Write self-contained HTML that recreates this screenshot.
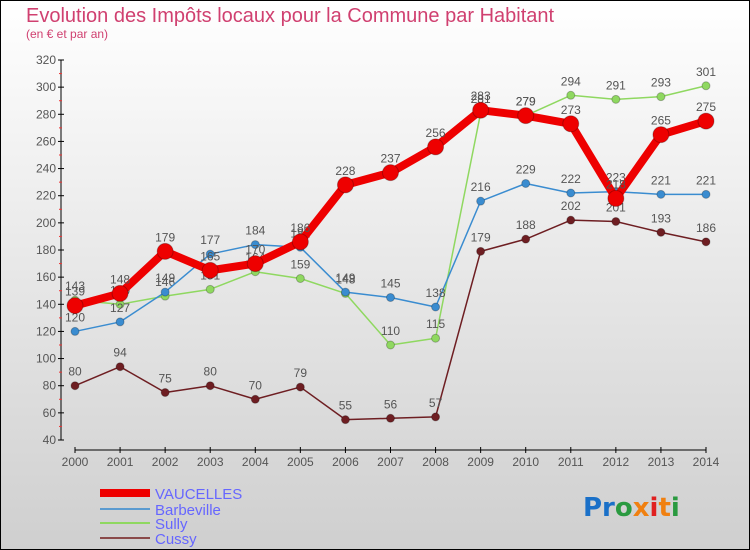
<!DOCTYPE html>
<html><head><meta charset="utf-8"><style>
body{margin:0}
#c{width:750px;height:550px;position:relative;box-sizing:border-box;border:1px solid #000;background:linear-gradient(#fff,#cfcfcf);font-family:"Liberation Sans",sans-serif;overflow:hidden}
</style></head><body>
<div id="c">
<svg id="s" width="750" height="550" style="position:absolute;left:-1px;top:-1px">
<text x="26" y="22" font-size="20" fill="#d04070">Evolution des Impôts locaux pour la Commune par Habitant</text>
<text x="26" y="38" font-size="12" fill="#d04070">(en € et par an)</text>
<g id="axes"></g><g id="series"></g>
<g>
<line x1="100" y1="493" x2="150" y2="493" stroke="#e00" stroke-width="8"/>
<text x="155" y="499" font-size="15" fill="#66f">VAUCELLES</text>
<line x1="100" y1="509" x2="150" y2="509" stroke="#5b9bd0" stroke-width="2"/>
<text x="155" y="515" font-size="15" fill="#66f">Barbeville</text>
<line x1="100" y1="523" x2="150" y2="523" stroke="#8fd860" stroke-width="2"/>
<text x="155" y="529" font-size="15" fill="#66f">Sully</text>
<line x1="100" y1="538" x2="150" y2="538" stroke="#8a4a4a" stroke-width="2"/>
<text x="155" y="544" font-size="15" fill="#66f">Cussy</text>
</g>
<text x="583" y="516" font-size="26" font-weight="bold" font-family="'DejaVu Sans',sans-serif"><tspan fill="#1a70c8">Pr</tspan><tspan fill="#2a9a40">o</tspan><tspan fill="#f08010">x</tspan><tspan fill="#e02020">i</tspan><tspan fill="#f08010">t</tspan><tspan fill="#2a9a40">i</tspan></text>
</svg></div>
<script>
const years=[2000,2001,2002,2003,2004,2005,2006,2007,2008,2009,2010,2011,2012,2013,2014];
const yTicks=[40,60,80,100,120,140,160,180,200,220,240,260,280,300,320];
const vaucelles=[139,148,179,165,170,186,228,237,256,283,279,273,218,265,275];
const barbeville=[120,127,149,177,184,182,149,145,138,216,229,222,223,221,221];
const sully=[143,140,146,151,164,159,148,110,115,281,279,294,291,293,301];
const cussy=[80,94,75,80,70,79,55,56,57,179,188,202,201,193,186];
const NS="http://www.w3.org/2000/svg";
const X=i=>75+i*(706-75)/(years.length-1);
const Y=v=>440-(v-40)*380/280;
function mk(t,a,p){const e=document.createElementNS(NS,t);for(const k in a)e.setAttribute(k,a[k]);p.appendChild(e);return e;}
const ax=document.getElementById('axes');
let e=mk('line',{x1:61,y1:60,x2:61,y2:440,stroke:'#000'},ax);

e=mk('line',{x1:75,y1:450,x2:706,y2:450,stroke:'#000'},ax);

yTicks.forEach(v=>{mk('line',{x1:58,y1:Y(v),x2:64,y2:Y(v),stroke:'#000'},ax);
if(v<320)mk('line',{x1:59,y1:Y(v+10),x2:62,y2:Y(v+10),stroke:'#e33'},ax);
const t=mk('text',{x:56,y:Y(v)+4,'font-size':12,fill:'#555','text-anchor':'end'},ax);t.textContent=v;
});
years.forEach((y,i)=>{mk('line',{x1:X(i),y1:447,x2:X(i),y2:453,stroke:'#000'},ax);
const t=mk('text',{x:X(i),y:466,'font-size':12,fill:'#555','text-anchor':'middle'},ax);t.textContent=y;
});
const sg=document.getElementById('series');
function draw(name,data,col,w,r){const g=mk('g',{},sg);

const p=mk('polyline',{points:data.map((v,i)=>X(i)+','+Y(v)).join(' '),fill:'none',stroke:col,'stroke-width':w,'stroke-linejoin':'round'},g);

data.forEach((v,i)=>{const c=mk('circle',{cx:X(i),cy:Y(v),r:r,fill:col,stroke:'rgba(0,0,0,0.25)'},g);

const t=mk('text',{x:X(i),y:Y(v)-10,'font-size':12,fill:'#555','text-anchor':'middle'},g);t.textContent=v;
});}
draw('cussy',cussy,'#6e1e22',1.5,4);
draw('sully',sully,'#8fd860',1.5,4);
draw('barbeville',barbeville,'#3a8cd0',1.5,4);
draw('vaucelles',vaucelles,'#ee0000',8,8);
</script></body></html>
